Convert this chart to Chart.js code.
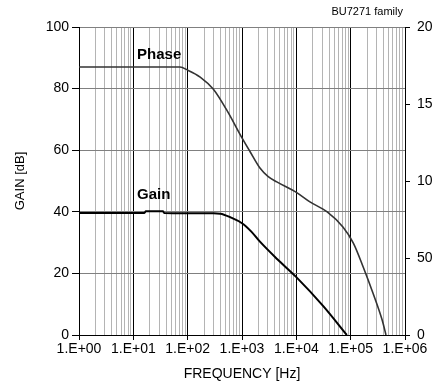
<!DOCTYPE html>
<html>
<head>
<meta charset="utf-8">
<script src="https://cdn.jsdelivr.net/npm/chart.js@4/dist/chart.umd.min.js"></script>
<style>
    html, body { margin: 0; padding: 0; background: #fff; overflow: hidden; }
    #wrap { width: 460px; height: 387px; }
</style>
</head>
<body>
<div id="wrap"><canvas id="bodeChart"></canvas></div>
<script>
// Frequencia [Hz] e valores
const phaseFreq = [1, 10, 72, 100, 170, 295, 525, 1000, 1410, 2140, 3000, 4370, 10000, 17800, 37000, 72000, 112000, 170000, 257000, 380000, 447000];
const phaseDeg = [174, 174, 174, 172, 167.5, 159.7, 146, 128, 119, 108.4, 103, 99.4, 92.6, 86.4, 79.9, 70.1, 59.7, 44.2, 27.3, 9.7, 0];

const gainFreq = [1, 16, 17, 35, 37, 300, 400, 630, 1000, 1500, 2140, 4470, 10000, 31600, 85000];
const gainDb = [39.6, 39.6, 40.2, 40.2, 39.6, 39.5, 39.4, 38.1, 36.3, 33.5, 30.3, 24.6, 18.8, 9.3, 0];

const decades = [1, 10, 100, 1000, 10000, 100000, 1000000];
const freqLabels = ['1.E+00', '1.E+01', '1.E+02', '1.E+03', '1.E+04', '1.E+05', '1.E+06'];
const gainTicks = [0, 20, 40, 60, 80, 100];
const phaseTicks = [0, 50, 100, 150, 200];

function toPoints(xs, ys) {
    return xs.map(function (x, i) {
        return { x: x, y: ys[i] };
    });
}

// linhas de grade 1..9 em cada decada
function freqGridTicks() {
    var ticks = [];
    for (var d = 0; d < decades.length; d++) {
        ticks.push({ value: decades[d] });
        if (d < decades.length - 1) {
            for (var m = 2; m <= 9; m++) {
                ticks.push({ value: decades[d] * m });
            }
        }
    }
    return ticks;
}

function isDecade(v) {
    return decades.indexOf(v) >= 0;
}

const textPlugin = {
    id: 'textPlugin',
    afterDraw: function (chart) {
        var ctx = chart.ctx;
        var xs = chart.scales.x;
        var ys = chart.scales.y;
        ctx.save();
        ctx.fillStyle = '#000';
        ctx.textBaseline = 'alphabetic';
        ctx.font = '11px "Liberation Sans", Arial, sans-serif';
        ctx.textAlign = 'right';
        ctx.fillText('BU7271 family', chart.chartArea.right - 2, 15);

        ctx.font = 'bold 15px "Liberation Sans", Arial, sans-serif';
        ctx.textAlign = 'left';
        ctx.fillText('Phase', xs.getPixelForValue(11.7), ys.getPixelForValue(89.6));
        ctx.fillText('Gain', xs.getPixelForValue(11.7), ys.getPixelForValue(44.2));
        ctx.restore();
    }
};

const baseFont = { family: '"Liberation Sans", Arial, sans-serif', size: 14 };

var ctxBode = document.getElementById('bodeChart').getContext('2d');
var bodeChart = new Chart(ctxBode, {
    type: 'line',
    data: {
        datasets: [{
            label: 'Phase',
            data: toPoints(phaseFreq, phaseDeg),
            yAxisID: 'y2',
            borderColor: '#333333',
            borderWidth: 1.6,
            pointRadius: 0,
            cubicInterpolationMode: 'monotone',
            fill: false
        }, {
            label: 'Gain',
            data: toPoints(gainFreq, gainDb),
            yAxisID: 'y',
            borderColor: '#000000',
            borderWidth: 2,
            pointRadius: 0,
            cubicInterpolationMode: 'monotone',
            fill: false
        }]
    },
    options: {
        responsive: true,
        maintainAspectRatio: false,
        devicePixelRatio: 1,
        animation: false,
        layout: { padding: { top: 27, left: 0, right: 0, bottom: 0 } },
        plugins: {
            legend: { display: false },
            tooltip: { enabled: false }
        },
        scales: {
            x: {
                type: 'logarithmic',
                min: 1,
                max: 1000000,
                afterBuildTicks: function (scale) {
                    scale.ticks = freqGridTicks();
                },
                afterFit: function (scale) {
                    scale.height = 52;
                },
                ticks: {
                    autoSkip: false,
                    maxRotation: 0,
                    padding: 1,
                    color: '#000',
                    font: baseFont,
                    callback: function (value) {
                        var i = decades.indexOf(value);
                        return i >= 0 ? freqLabels[i] : '';
                    }
                },
                grid: {
                    color: function (c) {
                        return c.tick && isDecade(c.tick.value) ? '#000000' : '#b4b4b4';
                    },
                    tickColor: function (c) {
                        return c.tick && isDecade(c.tick.value) ? '#000000' : 'rgba(0,0,0,0)';
                    },
                    lineWidth: 1,
                    tickLength: 5
                },
                border: { color: '#000', width: 1 },
                title: {
                    display: true,
                    text: 'FREQUENCY [Hz]',
                    color: '#000',
                    font: baseFont,
                    padding: { top: 0, bottom: 4 }
                }
            },
            y: {
                position: 'left',
                min: 0,
                max: 100,
                afterBuildTicks: function (scale) {
                    scale.ticks = gainTicks.map(function (v) { return { value: v }; });
                },
                afterFit: function (scale) {
                    scale.width = 79;
                },
                ticks: {
                    padding: 3,
                    color: '#000',
                    font: baseFont
                },
                grid: {
                    color: '#808080',
                    tickColor: '#000',
                    lineWidth: 1,
                    tickLength: 7
                },
                border: { color: '#000', width: 1 },
                title: {
                    display: true,
                    text: 'GAIN [dB]',
                    color: '#000',
                    font: { family: baseFont.family, size: 13 },
                    padding: { top: 13, bottom: 0 }
                }
            },
            y2: {
                position: 'right',
                min: 0,
                max: 200,
                afterBuildTicks: function (scale) {
                    scale.ticks = phaseTicks.map(function (v) { return { value: v }; });
                },
                afterFit: function (scale) {
                    scale.width = 55;
                },
                ticks: {
                    padding: 7,
                    color: '#000',
                    font: baseFont
                },
                grid: {
                    drawOnChartArea: false,
                    tickColor: '#000',
                    tickLength: 5
                },
                border: { color: '#000', width: 1 }
            }
        }
    },
    plugins: [textPlugin]
});
</script>
</body>
</html>
